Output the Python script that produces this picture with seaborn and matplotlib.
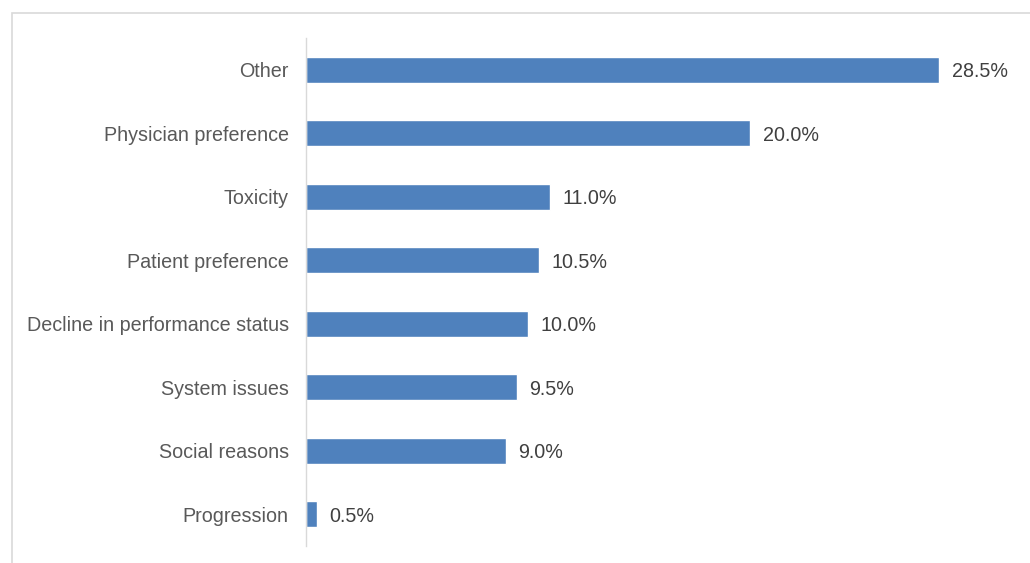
import matplotlib
matplotlib.use("Agg")
import matplotlib.pyplot as plt
import seaborn as sns
import pandas as pd
from matplotlib.patches import Rectangle

categories = ["Other", "Physician preference", "Toxicity", "Patient preference",
              "Decline in performance status", "System issues", "Social reasons", "Progression"]
values = [28.5, 20.0, 11.0, 10.5, 10.0, 9.5, 9.0, 0.5]

sns.set_theme(style="white")
plt.rcParams['font.family'] = ['Liberation Sans', 'DejaVu Sans']

df = pd.DataFrame({"reason": categories, "pct": values})

fig = plt.figure(figsize=(10.30, 5.63), dpi=100)
W, H = 1030, 563
ax = fig.add_axes([306 / W, 1 - 546 / H, (1017 - 306) / W, (546 - 38) / H])

sns.barplot(data=df, x="pct", y="reason", order=categories, orient="h",
            color="#4f81bd", saturation=1, width=0.41, ax=ax)

ax.set_xlim(0, 32)
ax.set_ylim(7.5, -0.5)
ax.set_xlabel("")
ax.set_ylabel("")
ax.set_xticks([])
for s in ["top", "right", "bottom"]:
    ax.spines[s].set_visible(False)
ax.spines["left"].set_color("#d9d9d9")
ax.spines["left"].set_linewidth(1.0)
ax.tick_params(axis="y", length=0, pad=12.5, labelsize=14.2, labelcolor="#595959")

for i, v in enumerate(values):
    ax.annotate(f"{v:.1f}%", xy=(v, i), xytext=(9, -1.5), textcoords="offset points",
                va="center", ha="left", fontsize=14.2, color="#404040")

fig.patches.append(Rectangle((12 / W, -0.1), 1.2, 1 - 13 / H + 0.1, transform=fig.transFigure,
                             fill=False, edgecolor="#d9d9d9", linewidth=1.2, zorder=0))

fig.savefig("out.png", dpi=100)
